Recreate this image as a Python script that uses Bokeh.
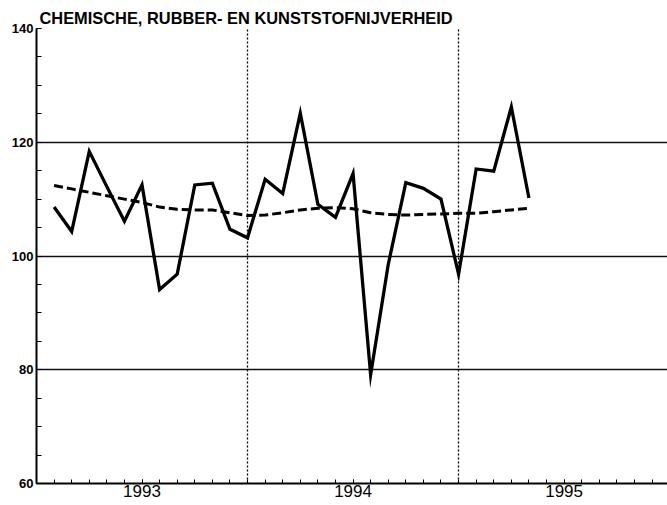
from bokeh.plotting import figure
from bokeh.models import Range1d, FixedTicker, CustomJSTickFormatter
from bokeh.embed import file_html
from bokeh.resources import INLINE

title_text = "CHEMISCHE, RUBBER- EN KUNSTSTOFNIJVERHEID"

years = [1993] * 12 + [1994] * 12 + [1995] * 4
months = list(range(1, 13)) + list(range(1, 13)) + [1, 2, 3, 4]

production = [108.6, 104.3, 118.4, 112.2, 106.1, 112.5, 94.1, 96.8, 112.5, 112.8, 104.7, 103.2,
              113.5, 111.0, 125.1, 109.1, 106.8, 114.5, 79.1, 98.5, 112.9, 111.9, 110.0, 96.8,
              115.3, 114.9, 126.2, 110.2]
trend = [112.4, 111.8, 111.2, 110.6, 110.0, 109.4, 108.6, 108.2, 108.1, 108.1, 107.6, 107.1,
         107.2, 107.6, 108.1, 108.4, 108.5, 108.3, 107.6, 107.3, 107.2, 107.3, 107.4, 107.5,
         107.5, 107.8, 108.1, 108.4]

year_starts = [1993, 1994, 1995]
year_labels = ["1993", "1994", "1995"]
y_ticks = [60, 80, 100, 120, 140]
y_minor = list(range(60, 141, 5))

# positions: end of each month
x = [y + m / 12 for y, m in zip(years, months)]
year_mid = [y + 0.5 for y in year_starts]
month_ticks = [year_starts[0] + k / 12 for k in range(0, 36)]

FONT = "Liberation Sans"

p = figure(width=667, height=505, output_backend="svg", toolbar_location=None,
           x_range=Range1d(1993.0, 1995.99), y_range=Range1d(60, 140),
           min_border_left=36, min_border_right=0, min_border_top=28, min_border_bottom=22)
p.outline_line_color = None
p.background_fill_color = "white"
p.border_fill_color = "white"

p.title.text = title_text
p.title.text_font = FONT
p.title.text_font_size = "16.4px"
p.title.text_font_style = "bold"
p.title.text_color = "black"
p.title.offset = 3
p.title.standoff = 4

# x axis
xa = p.xaxis[0]
xa.ticker = FixedTicker(ticks=year_mid, minor_ticks=month_ticks)
xa.formatter = CustomJSTickFormatter(args=dict(labels=year_labels, first=year_starts[0]),
                                     code="return labels[Math.floor(tick) - first];")
xa.axis_line_width = 2
xa.axis_line_color = "black"
xa.major_tick_in = 4
xa.major_tick_out = 0
xa.minor_tick_in = 4
xa.minor_tick_out = 0
xa.major_tick_line_color = "black"
xa.minor_tick_line_color = "black"
xa.major_tick_line_width = 1
xa.minor_tick_line_width = 1
xa.major_label_text_font = FONT
xa.major_label_text_font_size = "17px"
xa.major_label_text_color = "black"
xa.major_label_standoff = 1

# y axis
ya = p.yaxis[0]
ya.ticker = FixedTicker(ticks=y_ticks, minor_ticks=y_minor)
ya.axis_line_width = 2
ya.axis_line_color = "black"
ya.major_tick_in = 5
ya.major_tick_out = 0
ya.minor_tick_in = 5
ya.minor_tick_out = 0
ya.major_tick_line_color = "black"
ya.minor_tick_line_color = "black"
ya.major_label_text_font = FONT
ya.major_label_text_font_size = "13px"
ya.major_label_text_font_style = "bold"
ya.major_label_text_color = "black"
ya.major_label_standoff = 3

# grids
p.ygrid.ticker = FixedTicker(ticks=y_ticks)
p.ygrid.grid_line_color = "#111111"
p.ygrid.grid_line_width = 1.5
p.xgrid.ticker = FixedTicker(ticks=year_starts[1:])
p.xgrid.grid_line_color = "black"
p.xgrid.grid_line_width = 1.3
p.xgrid.grid_line_dash = "2 2"

p.line(x, trend, line_color="black", line_width=3, line_dash="9 4")
p.line(x, production, line_color="black", line_width=3.3, line_join="miter")

open("out.html", "w").write(file_html(p, INLINE))
